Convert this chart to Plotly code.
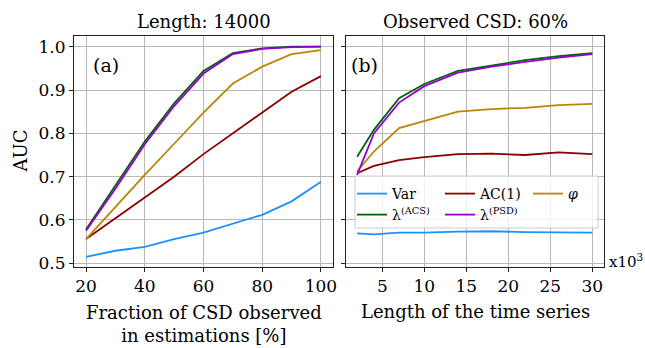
import plotly.graph_objects as go

# ---- data ----
frac = [20, 30, 40, 50, 60, 70, 80, 90, 100]
var_a = [0.515, 0.529, 0.538, 0.556, 0.571, 0.591, 0.612, 0.643, 0.688]
ac1_a = [0.556, 0.604, 0.650, 0.700, 0.752, 0.800, 0.850, 0.896, 0.932]
phi_a = [0.556, 0.631, 0.704, 0.776, 0.848, 0.915, 0.954, 0.983, 0.992]
acs_a = [0.578, 0.678, 0.781, 0.869, 0.944, 0.985, 0.996, 1.000, 1.000]
psd_a = [0.575, 0.672, 0.775, 0.863, 0.938, 0.983, 0.995, 0.999, 1.000]

length = [2, 4, 7, 10, 14, 18, 22, 26, 30]
var_b = [0.569, 0.567, 0.571, 0.571, 0.573, 0.574, 0.572, 0.572, 0.571]
ac1_b = [0.708, 0.725, 0.738, 0.745, 0.752, 0.753, 0.750, 0.756, 0.752]
phi_b = [0.712, 0.758, 0.812, 0.829, 0.850, 0.856, 0.859, 0.865, 0.868]
acs_b = [0.746, 0.808, 0.881, 0.914, 0.944, 0.956, 0.969, 0.978, 0.985]
psd_b = [0.704, 0.800, 0.871, 0.909, 0.940, 0.954, 0.965, 0.975, 0.983]

names = ["Var", "AC(1)", "<i>φ</i>", "λ<sup>(ACS)</sup>", "λ<sup>(PSD)</sup>"]
colors = ["#1E90FF", "#8B0000", "#B8860B", "#006400", "#9400D3"]
legend_of = ["legend", "legend", "legend", "legend2", "legend2"]
series_a = [var_a, ac1_a, phi_a, acs_a, psd_a]
series_b = [var_b, ac1_b, phi_b, acs_b, psd_b]

FONT = "DejaVu Serif"
W, H = 645, 348
ml, mr, mt, mb = 74, 41, 36, 81
pw = W - ml - mr
ph = H - mt - mb

def px2x(px):
    return (px - ml) / pw

def px2y(py):
    return (H - mb - py) / ph

fig = go.Figure()
for nm, c, lg, ya, yb in zip(names, colors, legend_of, series_a, series_b):
    fig.add_trace(go.Scatter(x=frac, y=ya, mode="lines", line=dict(color=c, width=1.8),
                             name=nm, showlegend=False, xaxis="x", yaxis="y"))
    fig.add_trace(go.Scatter(x=length, y=yb, mode="lines", line=dict(color=c, width=1.8),
                             name=nm, showlegend=True, legend=lg, xaxis="x2", yaxis="y2"))

axis_common = dict(showline=True, mirror=True, linecolor="#222", linewidth=1,
                   showgrid=True, gridcolor="#b8b8b8", gridwidth=1, automargin=False,
                   ticks="outside", ticklen=4, tickcolor="#222", zeroline=False,
                   tickfont=dict(family=FONT, size=17, color="black"))

leg_common = dict(orientation="h", xanchor="left", yanchor="top", entrywidth=43,
                  bgcolor="rgba(0,0,0,0)", borderwidth=0,
                  font=dict(family=FONT, size=14))

def note(text, xref, x, yref, y, size, xanchor="center", yanchor="middle", angle=0):
    return dict(text=text, xref=xref, x=x, yref=yref, y=y, xanchor=xanchor, yanchor=yanchor,
                textangle=angle, showarrow=False, font=dict(family=FONT, size=size))

fig.update_layout(
    width=W, height=H,
    margin=dict(l=ml, r=mr, t=mt, b=mb),
    paper_bgcolor="white", plot_bgcolor="white",
    font=dict(family=FONT, size=18, color="black"),
    xaxis=dict(domain=[0, 259 / pw], range=[15.9, 104.1], tickvals=[20, 40, 60, 80, 100],
               **axis_common),
    xaxis2=dict(domain=[272 / pw, 1], range=[0.68, 31.39], tickvals=[5, 10, 15, 20, 25, 30],
                anchor="y2", **axis_common),
    yaxis=dict(range=[0.4915, 1.0247], tickvals=[0.5, 0.6, 0.7, 0.8, 0.9, 1.0],
               tickformat=".1f", **axis_common),
    yaxis2=dict(range=[0.4915, 1.0247], tickvals=[0.5, 0.6, 0.7, 0.8, 0.9, 1.0],
                showticklabels=False, anchor="x2", **axis_common),
    legend=dict(x=px2x(352), y=px2y(178), **leg_common),
    legend2=dict(x=px2x(352), y=px2y(199), **leg_common),
    shapes=[dict(type="rect", xref="paper", yref="paper", x0=px2x(355), x1=px2x(598),
                 y0=px2y(228), y1=px2y(176), layer="above",
                 fillcolor="rgba(255,255,255,0.8)", line=dict(color="#cccccc", width=1))],
    annotations=[
        note("Length: 14000", "x domain", 0.5, "paper", px2y(21), 18),
        note("Observed CSD: 60%", "x2 domain", 0.5, "paper", px2y(21), 18),
        note("(a)", "x domain", 0.065, "y domain", 0.875, 19, xanchor="left"),
        note("(b)", "x2 domain", 0.01, "y2 domain", 0.875, 19, xanchor="left"),
        note("x10<sup>3</sup>", "paper", px2x(607), "paper", px2y(261), 15, xanchor="left"),
        note("Fraction of CSD observed<br>in estimations [%]", "x domain", 0.5, "paper",
             px2y(323.5), 18),
        note("Length of the time series", "x2 domain", 0.5, "paper", px2y(311), 18),
        note("AUC", "paper", px2x(20), "y domain", 0.5, 18, angle=-90),
    ],
)

fig.write_html("out.html")
